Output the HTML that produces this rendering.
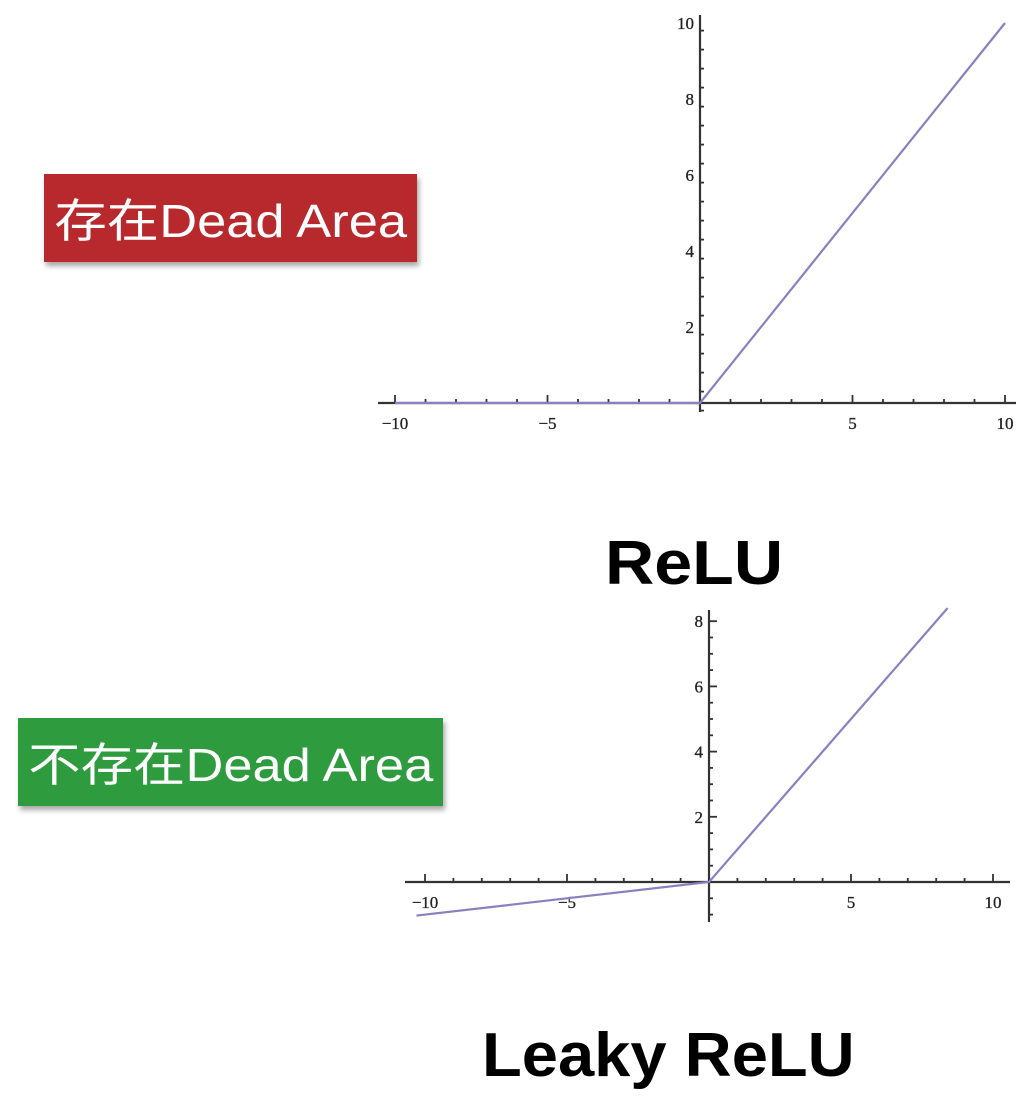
<!DOCTYPE html>
<html><head><meta charset="utf-8"><style>
html,body{margin:0;padding:0;background:#fff;width:1036px;height:1096px;overflow:hidden;position:relative}
.tag{position:absolute;color:#fff;font-family:"Liberation Sans","Noto Sans CJK SC",sans-serif;font-size:46px;display:flex;align-items:center;justify-content:center;box-shadow:2px 4px 5px rgba(0,0,0,0.35);white-space:nowrap}
.tag span{display:inline-block;transform:scaleX(1.14)}
.title{position:absolute;font-family:"Liberation Sans",sans-serif;font-weight:bold;color:#000;white-space:nowrap;transform-origin:left top}
svg{position:absolute;left:0;top:0}
</style></head><body>
<div class="tag" style="left:44px;top:174px;width:373px;height:88px;background:#b8292d"><span>存在Dead Area</span></div>
<div class="tag" style="left:18px;top:718px;width:425px;height:88px;background:#2e9b3e"><span>不存在Dead Area</span></div>
<div class="title" style="left:605px;top:528px;font-size:62px;transform:scaleX(1.1)">ReLU</div>
<div class="title" style="left:482px;top:1020px;font-size:62px;transform:scaleX(1.05)">Leaky ReLU</div>
<svg id="svg" width="1036" height="1096"></svg>
<script>
const reluXs = [-10, 0, 10];
const reluYs = [0, 0, 10];
const reluXTicks = [-10, -5, 5, 10];
const reluYTicks = [2, 4, 6, 8, 10];
const leakyXs = [-10.3, 0, 8.4];
const leakyYs = [-1.03, 0, 8.4];
const leakyXTicks = [-10, -5, 5, 10];
const leakyYTicks = [2, 4, 6, 8];

const NS = "http://www.w3.org/2000/svg";
const svg = document.getElementById('svg');
function mk(tag, attrs, parent){const e=document.createElementNS(NS,tag);for(const k in attrs)e.setAttribute(k,attrs[k]);(parent||svg).appendChild(e);return e;}

function chart(cfg){
  const g = mk('g',{});
  
  
  const sx = v => cfg.x0 + v*cfg.kx;
  const sy = v => cfg.y0 - v*cfg.ky;
  const xa = mk('line',{x1:cfg.xl,x2:cfg.xr,y1:cfg.y0,y2:cfg.y0,stroke:'#333','stroke-width':2.2},g);
  
  
  const ya = mk('line',{x1:cfg.x0,x2:cfg.x0,y1:cfg.yt,y2:cfg.yb,stroke:'#333','stroke-width':2.2},g);
  
  
  for(let v=-10; v<=10; v++){ if(v===0) continue;
    const major = v%5===0;
    mk('line',{x1:sx(v),x2:sx(v),y1:cfg.y0,y2:cfg.y0-(major?8:4),stroke:'#333','stroke-width':1.8},g);
  }
  for(let v=cfg.yMin; v<=cfg.yMax+1e-6; v+=0.5){ if(Math.abs(v)<1e-6) continue;
    const major = Math.abs(v%2)<1e-6;
    mk('line',{x1:cfg.x0,x2:cfg.x0+(major?8:4),y1:sy(v),y2:sy(v),stroke:'#333','stroke-width':1.8},g);
  }
  cfg.xt.forEach(v=>{
    const t = mk('text',{x:sx(v),y:cfg.y0+26,'text-anchor':'middle','font-family':'Liberation Serif, serif','font-size':17,fill:'#222',stroke:'#222','stroke-width':0.3},g);
    t.textContent = v<0 ? '\u2212'+(-v) : v;
    
    
  });
  cfg.yt2.forEach(v=>{
    const t = mk('text',{x:cfg.x0-6,y:sy(v)+6,'text-anchor':'end','font-family':'Liberation Serif, serif','font-size':17,fill:'#222',stroke:'#222','stroke-width':0.3},g);
    t.textContent = v;
    
    
  });
  const pts = cfg.xs.map((x,i)=>sx(x)+','+sy(cfg.ys[i])).join(' ');
  const p = mk('polyline',{points:pts,fill:'none',stroke:'#8a7fc0','stroke-width':2.2},g);
  
  
}
chart({name:'relu-chart',lineName:'relu-line',x0:700,y0:403,kx:30.5,ky:38,xl:378,xr:1016,yt:15,yb:412,yMin:-0.2,yMax:10,xs:reluXs,ys:reluYs,xt:reluXTicks,yt2:reluYTicks});
chart({name:'leaky-relu-chart',lineName:'leaky-relu-line',x0:709,y0:882,kx:28.4,ky:32.6,xl:405,xr:1010,yt:610,yb:922,yMin:-1,yMax:8,xs:leakyXs,ys:leakyYs,xt:leakyXTicks,yt2:leakyYTicks});
</script>
</body></html>
